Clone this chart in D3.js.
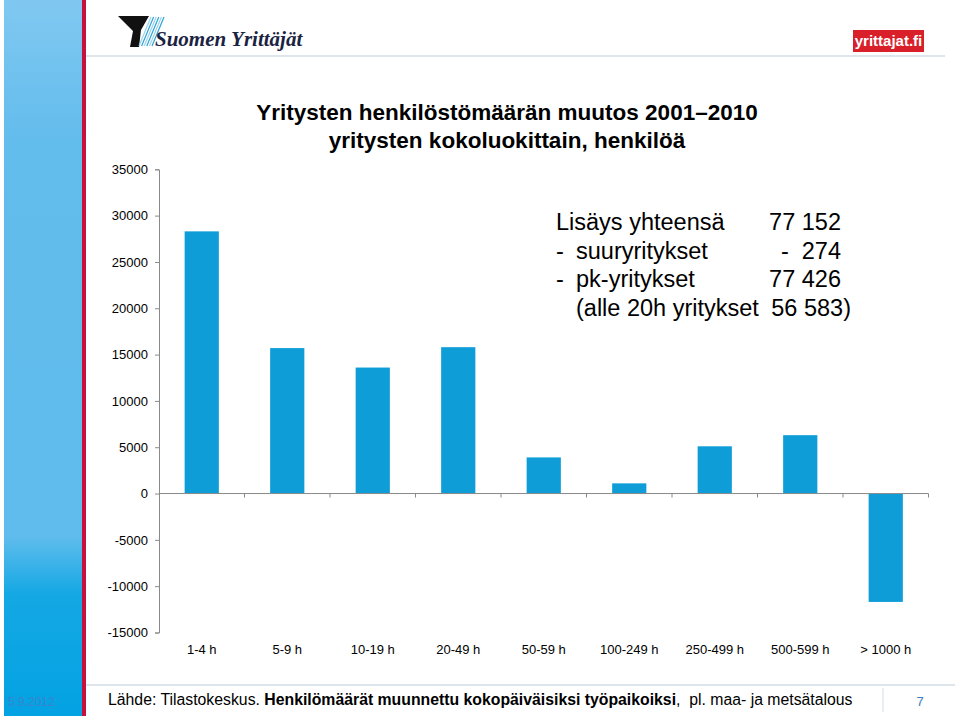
<!DOCTYPE html>
<html>
<head>
<meta charset="utf-8">
<script src="https://cdn.jsdelivr.net/npm/d3@7"></script>
<style>
  body { margin: 0; background: #fff; }
  svg { display: block; font-family: "Liberation Sans", Arial, sans-serif; }
</style>
</head>
<body>
<div id="chart"></div>
<script>
// data
var categories = ["1-4 h", "5-9 h", "10-19 h", "20-49 h", "50-59 h", "100-249 h", "250-499 h", "500-599 h", "> 1000 h"];
var values = [28300, 15700, 13600, 15800, 3900, 1100, 5100, 6300, -11700];
var yTicks = [35000, 30000, 25000, 20000, 15000, 10000, 5000, 0, -5000, -10000, -15000];
var titleLines = ["Yritysten henkilöstömäärän muutos 2001\u20132010", "yritysten kokoluokittain, henkilöä"];
var noteDash = ["", "-", "-", ""];
var noteLabels = ["Lisäys yhteensä", "suuryritykset", "pk-yritykset", "(alle 20h yritykset"];
var noteValues = ["77 152", "-  274", "77 426", "56 583)"];

var width = 960, height = 716;

var svg = d3.select("#chart").append("svg")
    .attr("width", width)
    .attr("height", height);

// left blue strip
var defs = svg.append("defs");
var grad = defs.append("linearGradient")
    .attr("id", "strip")
    .attr("x1", 0).attr("y1", 0).attr("x2", 0).attr("y2", 1);
grad.append("stop").attr("offset", "0%").attr("stop-color", "#80c8f1");
grad.append("stop").attr("offset", "20%").attr("stop-color", "#62bcec");
grad.append("stop").attr("offset", "75%").attr("stop-color", "#5fbcec");
grad.append("stop").attr("offset", "83%").attr("stop-color", "#14a8e4");
grad.append("stop").attr("offset", "100%").attr("stop-color", "#03a2e2");

svg.append("rect")
    .attr("x", 4).attr("y", 0)
    .attr("width", 78).attr("height", height)
    .attr("fill", "url(#strip)");
svg.append("rect")
    .attr("x", 82).attr("y", 0)
    .attr("width", 4).attr("height", height)
    .attr("fill", "#c8103c");

// header / footer lines
svg.append("line")
    .attr("x1", 86).attr("x2", 945)
    .attr("y1", 56).attr("y2", 56)
    .attr("stroke", "#d3dde4").attr("stroke-width", 1.5);
svg.append("line")
    .attr("x1", 86).attr("x2", 955)
    .attr("y1", 685).attr("y2", 685)
    .attr("stroke", "#d3dde4").attr("stroke-width", 1.5);
svg.append("line")
    .attr("x1", 883).attr("x2", 883)
    .attr("y1", 688).attr("y2", 712)
    .attr("stroke", "#d3dde4").attr("stroke-width", 1);

// logo Suomen Yrittäjät
var logo = svg.append("g");
logo.append("path")
    .attr("d", "M118,16 L149,16 L141,30 L139,47 L130,47 L133,31 Z")
    .attr("fill", "#111");
for (var i = 0; i < 6; i++) {
  logo.append("line")
      .attr("x1", 139 + i * 2.6).attr("y1", 46)
      .attr("x2", 151 + i * 2.6).attr("y2", 17)
      .attr("stroke", i % 2 ? "#2fa3d6" : "#9bd3ee")
      .attr("stroke-width", 1.2);
}
logo.append("text")
    .attr("x", 155).attr("y", 46)
    .attr("font-family", "Liberation Serif, serif")
    .attr("font-style", "italic")
    .attr("font-weight", "bold")
    .attr("font-size", "21px")
    .attr("fill", "#1b2342")
    .text("Suomen Yrittäjät");

// yrittajat.fi
svg.append("rect")
    .attr("x", 853).attr("y", 30)
    .attr("width", 71).attr("height", 22)
    .attr("fill", "#d81f2a");
svg.append("text")
    .attr("x", 888.5).attr("y", 46)
    .attr("text-anchor", "middle")
    .attr("font-weight", "bold")
    .attr("font-size", "15px")
    .attr("fill", "#fff")
    .text("yrittajat.fi");

// title
svg.selectAll("text.title")
    .data(titleLines)
    .enter().append("text")
    .attr("class", "title")
    .attr("x", 507)
    .attr("y", function(d, i) { return 120 + i * 28; })
    .attr("text-anchor", "middle")
    .attr("font-weight", "bold")
    .attr("font-size", "22.5px")
    .attr("fill", "#000")
    .text(function(d) { return d; });

// scales
var x = d3.scaleBand()
    .domain(categories)
    .range([159, 928.5])
    .paddingInner(0.6)
    .paddingOuter(0.3);

var y = d3.scaleLinear()
    .domain([-15000, 35000])
    .range([632.5, 169.3]);

// y axis
var yAxis = svg.append("g")
    .attr("transform", "translate(159,0)")
    .call(d3.axisLeft(y).tickValues(yTicks).tickSize(4).tickPadding(7)
        .tickFormat(function(d) { return String(d); }));
yAxis.select(".domain").attr("stroke", "#8a8a8a");
yAxis.selectAll(".tick line").attr("stroke", "#8a8a8a");
yAxis.selectAll(".tick text")
    .attr("font-family", "Liberation Sans, Arial, sans-serif")
    .attr("font-size", "13px")
    .attr("fill", "#000");

// bars
svg.selectAll("rect.bar")
    .data(values)
    .enter().append("rect")
    .attr("class", "bar")
    .attr("x", function(d, i) { return x(categories[i]); })
    .attr("width", x.bandwidth())
    .attr("y", function(d) { return y(Math.max(0, d)); })
    .attr("height", function(d) { return Math.abs(y(d) - y(0)); })
    .attr("fill", "#0f9dd8");

// x axis line at zero with ticks between bands
var xAxis = svg.append("g");
xAxis.append("line")
    .attr("x1", 159).attr("x2", 928.5)
    .attr("y1", y(0)).attr("y2", y(0))
    .attr("stroke", "#8a8a8a");
xAxis.selectAll("line.xt")
    .data(categories)
    .enter().append("line")
    .attr("class", "xt")
    .attr("x1", function(d) { return x(d) - x.step() * x.paddingInner() / 2 + x.step(); })
    .attr("x2", function(d) { return x(d) - x.step() * x.paddingInner() / 2 + x.step(); })
    .attr("y1", y(0)).attr("y2", y(0) + 4)
    .attr("stroke", "#8a8a8a");

// category labels
svg.selectAll("text.cat")
    .data(categories)
    .enter().append("text")
    .attr("class", "cat")
    .attr("x", function(d) { return x(d) + x.bandwidth() / 2; })
    .attr("y", 654)
    .attr("text-anchor", "middle")
    .attr("font-size", "13px")
    .attr("fill", "#000")
    .text(function(d) { return d; });

// note block
var noteY = function(d, i) { return 230 + i * 28.7; };
svg.selectAll("text.nd")
    .data(noteDash)
    .enter().append("text")
    .attr("class", "nd")
    .attr("x", 556)
    .attr("y", noteY)
    .attr("font-size", "23.5px")
    .attr("fill", "#000")
    .text(function(d) { return d; });
svg.selectAll("text.nl")
    .data(noteLabels)
    .enter().append("text")
    .attr("class", "nl")
    .attr("x", function(d, i) { return i === 0 ? 556 : 576; })
    .attr("y", noteY)
    .attr("font-size", "23.5px")
    .attr("fill", "#000")
    .text(function(d) { return d; });
svg.selectAll("text.nv")
    .data(noteValues)
    .enter().append("text")
    .attr("class", "nv")
    .attr("x", function(d, i) { return i === 3 ? 851 : 841; })
    .attr("y", noteY)
    .attr("text-anchor", "end")
    .attr("font-size", "23.5px")
    .attr("fill", "#000")
    .style("white-space", "pre")
    .text(function(d) { return d; });

// footer
svg.append("text")
    .attr("x", 8).attr("y", 706)
    .attr("font-size", "12px")
    .attr("fill", "#3a84cf")
    .text("5.9.2012");

var src = svg.append("text")
    .attr("x", 108).attr("y", 705)
    .attr("font-size", "15.8px")
    .attr("fill", "#000");
src.append("tspan").text("Lähde: Tilastokeskus. ");
src.append("tspan").attr("font-weight", "bold").text("Henkilömäärät muunnettu kokopäiväisiksi työpaikoiksi");
src.append("tspan").style("white-space", "pre").text(",  pl. maa- ja metsätalous");

svg.append("text")
    .attr("x", 920).attr("y", 706)
    .attr("text-anchor", "middle")
    .attr("font-size", "13px")
    .attr("fill", "#3a7fc0")
    .text("7");
</script>
</body>
</html>
